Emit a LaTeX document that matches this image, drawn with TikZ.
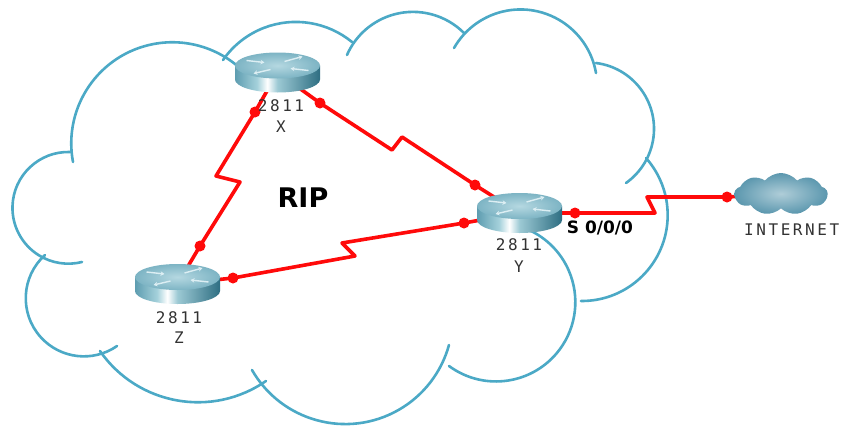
\documentclass[tikz,border=0pt]{standalone}
\usepackage{fontspec}
\usetikzlibrary{shapes.symbols,arrows.meta}
\newfontfamily\lblfont[LetterSpace=16]{DejaVu Sans Mono}
\newfontfamily\headfont{DejaVu Sans}

\definecolor{cloudblue}{HTML}{4BA9C6}
\definecolor{linkred}{HTML}{FF0A0A}
\definecolor{rtop}{HTML}{7DB4C4}
\definecolor{rtopin}{HTML}{B5D8E1}
\definecolor{rsideA}{HTML}{5E9DB0}
\definecolor{rsideB}{HTML}{A5D1DB}
\definecolor{rsideC}{HTML}{9CC9D4}
\definecolor{rsideD}{HTML}{2E6E82}
\definecolor{arrowtint}{HTML}{DCEEF3}
\definecolor{labelgray}{HTML}{333333}
\definecolor{inetout}{HTML}{5B97AE}
\definecolor{inetin}{HTML}{AFCDD8}

\pgfdeclarehorizontalshading{routerside}{100bp}{color(0bp)=(rsideA); color(25bp)=(rsideA); color(38bp)=(rsideB); color(44bp)=(white); color(50bp)=(rsideC); color(75bp)=(rsideD); color(100bp)=(rsideD)}

\pgfdeclarelayer{bg}
\pgfdeclarelayer{links}
\pgfsetlayers{bg,links,main}

% One lobe of the big cloud: a circular arc from the first point,
% through the second, to the third (screen coordinates, y downwards).
\newcommand\cloudlobe[6]{%
  \pgfmathsetmacro\lobAx{#1/100}\pgfmathsetmacro\lobAy{#2/100}%
  \pgfmathsetmacro\lobBx{#3/100}\pgfmathsetmacro\lobBy{#4/100}%
  \pgfmathsetmacro\lobCx{#5/100}\pgfmathsetmacro\lobCy{#6/100}%
  \pgfmathsetmacro\lobD{2*(\lobAx*(\lobBy-\lobCy)+\lobBx*(\lobCy-\lobAy)+\lobCx*(\lobAy-\lobBy))}%
  \pgfmathsetmacro\lobSA{\lobAx*\lobAx+\lobAy*\lobAy}%
  \pgfmathsetmacro\lobSB{\lobBx*\lobBx+\lobBy*\lobBy}%
  \pgfmathsetmacro\lobSC{\lobCx*\lobCx+\lobCy*\lobCy}%
  \pgfmathsetmacro\lobUx{(\lobSA*(\lobBy-\lobCy)+\lobSB*(\lobCy-\lobAy)+\lobSC*(\lobAy-\lobBy))/\lobD}%
  \pgfmathsetmacro\lobUy{(\lobSA*(\lobCx-\lobBx)+\lobSB*(\lobAx-\lobCx)+\lobSC*(\lobBx-\lobAx))/\lobD}%
  \pgfmathsetmacro\lobR{100*veclen(\lobAx-\lobUx,\lobAy-\lobUy)}%
  \pgfmathsetmacro\lobTA{atan2(\lobUy-\lobAy,\lobAx-\lobUx)}%
  \pgfmathsetmacro\lobTB{atan2(\lobUy-\lobBy,\lobBx-\lobUx)}%
  \pgfmathsetmacro\lobTC{atan2(\lobUy-\lobCy,\lobCx-\lobUx)}%
  \pgfmathsetmacro\lobDelta{mod(\lobTB-\lobTA+540,360)-180+mod(\lobTC-\lobTB+540,360)-180}%
  \draw[cloudline] (#1,#2) arc[start angle=\lobTA, delta angle=\lobDelta, radius=\lobR pt];%
}

\tikzset{
  cloudline/.style={draw=cloudblue, line width=2.6pt, line cap=round},
  link/.style={draw=linkred, line width=3.6pt, line join=round},
  linkdot/.style={circle, fill=linkred, minimum size=11pt, inner sep=0pt},
  routerbox/.style={rectangle, minimum width=85pt, minimum height=40pt, inner sep=0pt},
  lbl/.style={font=\lblfont\fontsize{16}{16}\selectfont, text=labelgray, inner sep=0pt},
  tinyarrow/.style={draw=arrowtint, line width=1.4pt, -{Stealth[length=4pt,width=4.5pt]}},
  routerpic/.pic={
    % cylinder side
    \path[shading=routerside]
      (-42.5pt,7pt) -- (-42.5pt,-7pt)
      arc[start angle=180, end angle=360, x radius=42.5pt, y radius=13pt]
      -- (42.5pt,7pt) -- cycle;
    % top face
    \path[inner color=rtopin, outer color=rtop]
      (0pt,7pt) ellipse[x radius=42.5pt, y radius=13pt];
    % four arrows on the top face
    \draw[tinyarrow] (-31pt,12pt) -- (-13pt,10pt);
    \draw[tinyarrow] (31pt,2pt) -- (13pt,4pt);
    \draw[tinyarrow] (7pt,11pt) -- (25pt,16pt);
    \draw[tinyarrow] (-7pt,3pt) -- (-24pt,-1pt);
  }
}

\begin{document}
\begin{tikzpicture}[x=1pt, y=-1pt]
\useasboundingbox (0,0) rectangle (844,426);

% ---- the RIP domain cloud, drawn lobe by lobe ----
\begin{pgfonlayer}{bg}
\fill[white] (0,0) rectangle (844,426);
\cloudlobe{73}{162}{127}{53}{245}{73}
\cloudlobe{70}{152}{13}{200}{82}{262}
\cloudlobe{45}{255}{30}{320}{117}{346}
\cloudlobe{100}{351}{190}{402}{266}{381}
\cloudlobe{252}{370}{349}{424}{449}{345}
\cloudlobe{449}{366}{564}{343}{529}{230}
\cloudlobe{581}{301}{664}{240}{646}{158}
\cloudlobe{596}{63}{654}{130}{626}{183}
\cloudlobe{596}{73}{564}{23}{454}{48}
\cloudlobe{464}{33}{409}{12}{347}{55}
\cloudlobe{352}{42}{282}{23}{223}{60}
\end{pgfonlayer}

% ---- routers ----
\node[routerbox] (X) at (277.5,72.5) {};
\node[routerbox] (Y) at (519.5,213) {};
\node[routerbox] (Z) at (177.5,284) {};
\pic at (X.center) {routerpic};
\pic at (Y.center) {routerpic};
\pic at (Z.center) {routerpic};

\node[lbl] (Xmodel) at (281,106) {2811};
\node[lbl] (Xname)  at (281,127) {X};
\node[lbl] (Ymodel) at (519,245) {2811};
\node[lbl] (Yname)  at (519,267) {Y};
\node[lbl] (Zmodel) at (179,318) {2811};
\node[lbl] (Zname)  at (179,338) {Z};

% ---- internet ----
\node[cloud, cloud puffs=9, cloud puff arc=100, aspect=2.2,
      minimum width=93pt, minimum height=42pt, inner sep=0pt,
      inner color=inetin, outer color=inetout] (inet) at (781,194) {};
\node[lbl, anchor=west] (inetlabel) at (744,230) {INTERNET};

% ---- labels ----
\node[font=\headfont\bfseries\fontsize{27}{27}\selectfont, inner sep=0pt] (rip) at (303,198) {RIP};
\node[font=\headfont\bfseries\fontsize{17}{17}\selectfont, inner sep=0pt] (serial) at (600,228) {S 0/0/0};

% ---- serial links ----
\begin{pgfonlayer}{links}
\coordinate (xz1) at (216,176);
\coordinate (xz2) at (240,182);
\coordinate (xy1) at (392,150);
\coordinate (xy2) at (402,137);
\coordinate (zy1) at (355,256);
\coordinate (zy2) at (342,243);
\coordinate (yi1) at (655,213);
\coordinate (yi2) at (647,197);

\node[linkdot] (dXZa) at (255,112) {};
\node[linkdot] (dXZb) at (200,246) {};
\node[linkdot] (dXYa) at (320,103) {};
\node[linkdot] (dXYb) at (475,185) {};
\node[linkdot] (dZYa) at (233,278) {};
\node[linkdot] (dZYb) at (464,223) {};
\node[linkdot] (dYI)  at (575,213) {};
\node[linkdot] (dI)   at (727,197) {};

\draw[link] (X.center) -- (dXZa.center) -- (xz1) -- (xz2) -- (dXZb.center) -- (Z.center);
\draw[link] (X.center) -- (dXYa.center) -- (xy1) -- (xy2) -- (dXYb.center) -- (Y.center);
\draw[link] (Z.center) -- (dZYa.center) -- (zy1) -- (zy2) -- (dZYb.center) -- (Y.center);
\draw[link] (Y.center) -- (dYI.center) -- (yi1) -- (yi2) -- (dI.center) -- (inet.center);
\end{pgfonlayer}
\end{tikzpicture}
\end{document}
